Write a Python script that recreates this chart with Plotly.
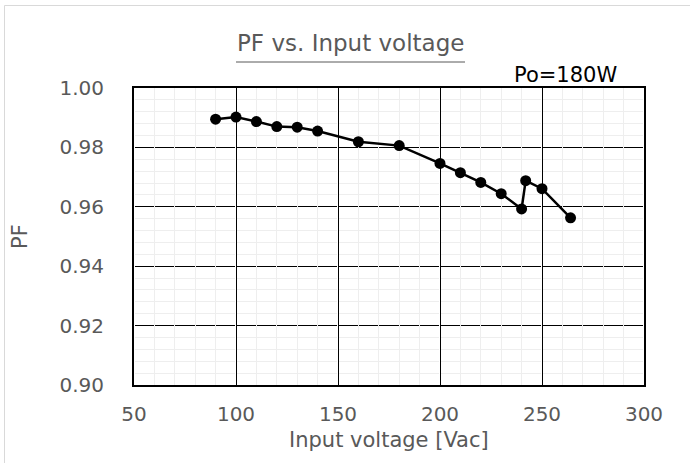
import plotly.graph_objects as go

# Data
voltage = [90, 100, 110, 120, 130, 140, 160, 180, 200, 210, 220, 230, 240, 242, 250, 264]
pf = [0.9895, 0.9902, 0.9887, 0.9870, 0.9868, 0.9855, 0.9819, 0.9806, 0.9746,
      0.9715, 0.9682, 0.9644, 0.9593, 0.9688, 0.9661, 0.9563]
x_ticks = [50, 100, 150, 200, 250, 300]
y_ticks = [0.90, 0.92, 0.94, 0.96, 0.98, 1.00]

W, H = 690, 463
L, R, T, B = 134, 46, 88, 78
pw = W - L - R
ph = H - T - B

def px(xp):
    return (xp - L) / pw

def py(yp):
    return 1 - (yp - T) / ph

minor_step = pw / 25.0
gap = 1.2
dash = f"0px,{gap/2:.3f}px,{minor_step-gap:.3f}px,{gap/2:.3f}px"

fig = go.Figure()
fig.add_trace(go.Scatter(
    x=voltage, y=pf, mode="lines+markers",
    line=dict(color="black", width=2.5),
    marker=dict(color="black", size=11),
    showlegend=False, hoverinfo="skip",
))

gray = "#595959"
fontfam = "DejaVu Sans"

fig.update_layout(
    width=W, height=H,
    margin=dict(l=L, r=R, t=T, b=B),
    paper_bgcolor="white", plot_bgcolor="white",
    font=dict(family=fontfam, color=gray, size=18),
    xaxis=dict(
        range=[50, 300], tickvals=x_ticks, ticktext=[str(v) for v in x_ticks],
        showgrid=True, gridcolor="black", gridwidth=1,
        minor=dict(dtick=10, showgrid=True, gridcolor="#eeeeee", gridwidth=1),
        showline=True, linecolor="black", linewidth=2, mirror=True,
        ticks="", zeroline=False, ticklabelstandoff=10,
        tickfont=dict(size=20, color=gray, family=fontfam),
    ),
    yaxis=dict(
        range=[0.90, 1.00], tickvals=y_ticks, ticktext=[f"{v:.2f}" for v in y_ticks],
        showgrid=True, gridcolor="black", gridwidth=1, griddash=dash,
        minor=dict(dtick=0.004, showgrid=True, gridcolor="#eeeeee", gridwidth=1),
        showline=True, linecolor="black", linewidth=2, mirror=True,
        ticks="", zeroline=False, ticklabelstandoff=24,
        tickfont=dict(size=20, color=gray, family=fontfam),
    ),
)

fig.add_annotation(
    text="Input voltage [Vac]", xref="paper", yref="paper",
    x=px(389), y=py(440), xanchor="center", yanchor="middle", showarrow=False,
    font=dict(size=21, color=gray, family=fontfam),
)
fig.add_annotation(
    text="PF", xref="paper", yref="paper", textangle=-90,
    x=px(20), y=py(237), xanchor="center", yanchor="middle", showarrow=False,
    font=dict(size=21, color=gray, family=fontfam),
)
fig.add_annotation(
    text="PF vs. Input voltage", xref="paper", yref="paper",
    x=px(350), y=py(43), xanchor="center", yanchor="middle", showarrow=False,
    font=dict(size=23, color=gray, family=fontfam),
)
fig.add_shape(type="line", xref="paper", yref="paper",
              x0=px(236), x1=px(465), y0=py(62), y1=py(62),
              line=dict(color=gray, width=1))
fig.add_annotation(
    text="Po=180W", xref="paper", yref="paper",
    x=px(565), y=py(75), xanchor="center", yanchor="middle", showarrow=False,
    font=dict(size=21, color="black", family=fontfam),
)
fig.add_shape(type="rect", xref="paper", yref="paper",
              x0=px(4.5), x1=px(700), y0=py(5.5), y1=py(470),
              line=dict(color="#d9d9d9", width=1), layer="below")

fig.write_html(
    "out.html",
    config={"displayModeBar": False},
    post_script="document.body.style.margin='0px';document.body.style.overflow='hidden';document.documentElement.style.overflow='hidden';",
)
